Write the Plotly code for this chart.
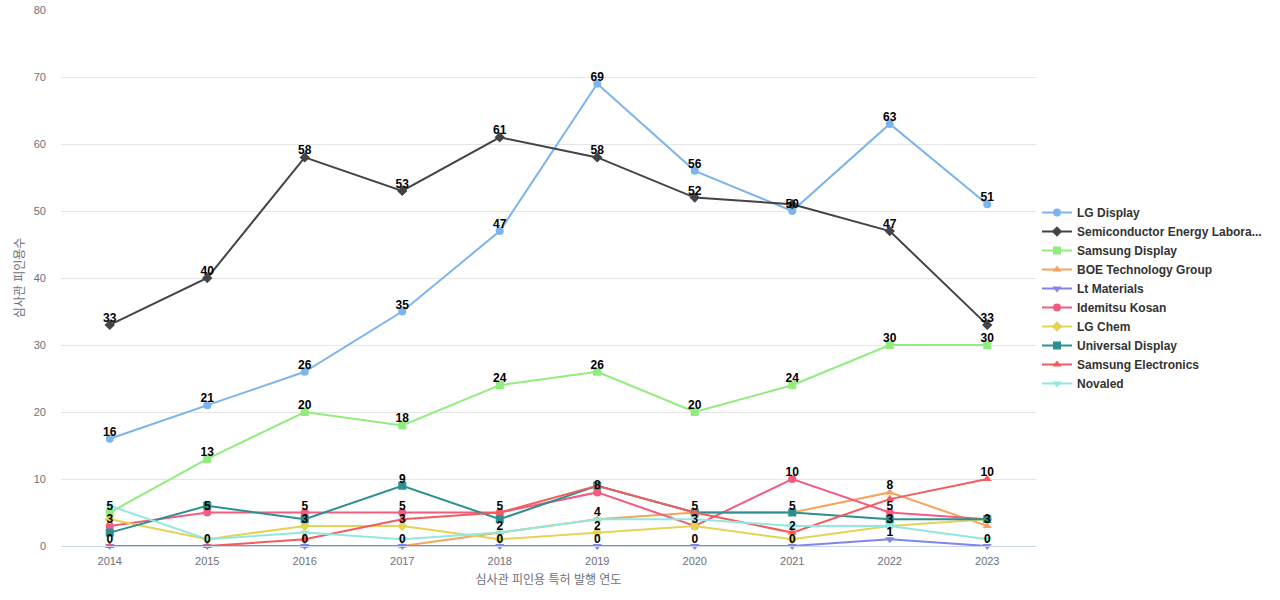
import plotly.graph_objects as go

years = ["2014", "2015", "2016", "2017", "2018", "2019", "2020", "2021", "2022", "2023"]

series_names = [
    "LG Display",
    "Semiconductor Energy Labora...",
    "Samsung Display",
    "BOE Technology Group",
    "Lt Materials",
    "Idemitsu Kosan",
    "LG Chem",
    "Universal Display",
    "Samsung Electronics",
    "Novaled",
]

lg_display = [16, 21, 26, 35, 47, 69, 56, 50, 63, 51]
semiconductor_energy = [33, 40, 58, 53, 61, 58, 52, 51, 47, 33]
samsung_display = [5, 13, 20, 18, 24, 26, 20, 24, 30, 30]
boe = [0, 0, 0, 0, 2, 4, 5, 5, 8, 3]
lt_materials = [0, 0, 0, 0, 0, 0, 0, 0, 1, 0]
idemitsu = [3, 5, 5, 5, 5, 8, 3, 10, 5, 4]
lg_chem = [4, 1, 3, 3, 1, 2, 3, 1, 3, 4]
universal_display = [2, 6, 4, 9, 4, 9, 5, 5, 4, 4]
samsung_electronics = [0, 0, 1, 4, 5, 9, 5, 2, 7, 10]
novaled = [6, 1, 2, 1, 2, 4, 4, 3, 3, 1]

values = [lg_display, semiconductor_energy, samsung_display, boe, lt_materials,
          idemitsu, lg_chem, universal_display, samsung_electronics, novaled]

colors = ["#7cb5ec", "#434348", "#90ed7d", "#f7a35c", "#8085e9",
          "#f15c80", "#e4d354", "#2b908f", "#f45b5b", "#91e8e1"]
symbols = ["circle", "diamond", "square", "triangle-up", "triangle-down",
           "circle", "diamond", "square", "triangle-up", "triangle-down"]

W, H = 1280, 600
ML, MR, MT, MB = 61, 244, 10, 54
YMAX = 80
plot_h = H - MT - MB
px_per_unit = plot_h / YMAX
LABEL_H = 12.5

# hide overlapping labels (greedy, in series order)
shown = [[] for _ in years]
texts = []
for vals in values:
    t = []
    for i, v in enumerate(vals):
        if all(abs(v - s) * px_per_unit >= LABEL_H for s in shown[i]):
            shown[i].append(v)
            t.append(str(v))
        else:
            t.append("")
    texts.append(t)

fig = go.Figure()
for name, vals, c, s in zip(series_names, values, colors, symbols):
    fig.add_trace(go.Scatter(
        x=years, y=vals, name=name, mode="lines+markers",
        line=dict(color=c, width=2),
        marker=dict(symbol=s, size=8, color=c),
        cliponaxis=False,
    ))
for name, vals, t in zip(series_names, values, texts):
    fig.add_trace(go.Scatter(
        x=years, y=vals, mode="text", text=t, textposition="top center",
        marker=dict(size=10),
        textfont=dict(family="Liberation Sans", size=12, color="#000000", weight="bold"),
        showlegend=False, hoverinfo="skip", cliponaxis=False,
    ))

legend_center_px = 298
fig.update_layout(
    width=W, height=H,
    margin=dict(l=ML, r=MR, t=MT, b=MB, autoexpand=False),
    paper_bgcolor="white", plot_bgcolor="white",
    font=dict(family="Liberation Sans, Noto Sans CJK KR", size=12, color="#6e7079"),
    legend=dict(
        x=1.001, xanchor="left",
        y=1 - (legend_center_px - MT) / plot_h, yanchor="middle",
        font=dict(family="Liberation Sans", size=12, color="#333333", weight="bold"),
        bgcolor="rgba(0,0,0,0)", itemwidth=30, tracegroupgap=0,
    ),
    showlegend=True,
)
fig.update_xaxes(
    type="category", range=[-0.5, 9.5], automargin=False,
    showgrid=False, showline=True, linecolor="#ccd6eb", linewidth=1,
    ticks="", tickfont=dict(size=11, color="#6e7079"), ticklabelstandoff=5,
    title=dict(text="심사관 피인용 특허 발행 연도", font=dict(size=12, color="#6e7079"), standoff=9),
)
fig.update_yaxes(
    range=[0, YMAX], dtick=10, showgrid=True, gridcolor="#e6e6e6", zeroline=False,
    automargin=False,
    showline=False, ticks="", tickfont=dict(size=11, color="#6e7079"), ticklabelstandoff=14,
    title=dict(text="심사관 피인용수", font=dict(size=12, color="#6e7079"), standoff=6),
)

fig.write_html("out.html", config={"displayModeBar": False},
               post_script="document.body.style.margin='0';")
